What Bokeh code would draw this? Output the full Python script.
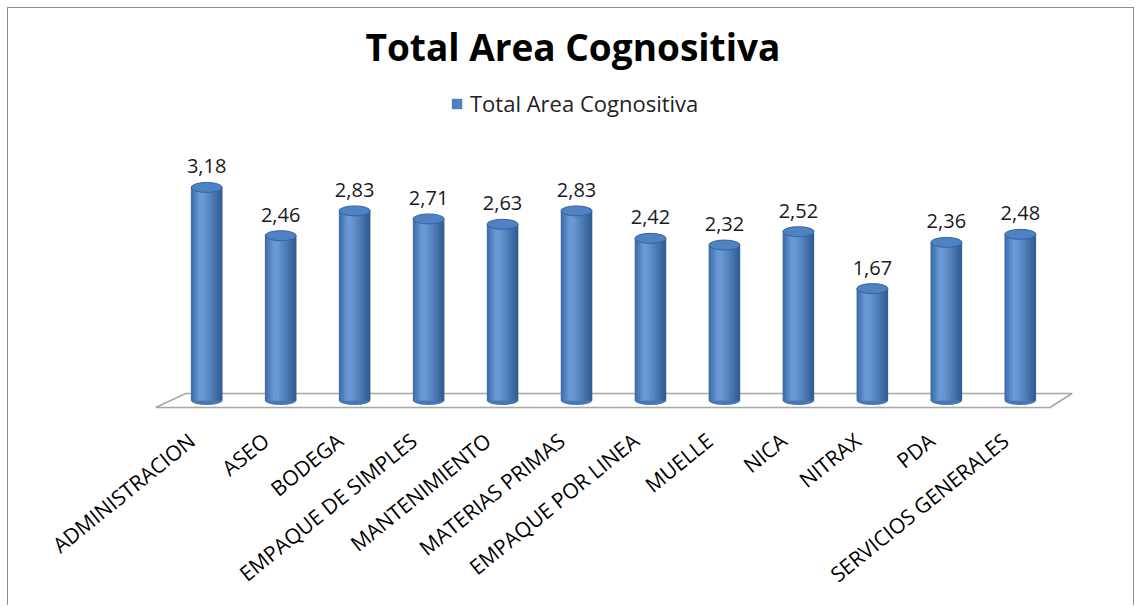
from bokeh.plotting import figure
from bokeh.models import (Range1d, ColumnDataSource, LabelSet,
                          Legend, LegendItem, LinearAxis, FixedTicker)
from bokeh.core.properties import value
from bokeh.embed import file_html
from bokeh.resources import INLINE

# ---------------- data ----------------
categories = ["ADMINISTRACION", "ASEO", "BODEGA", "EMPAQUE DE SIMPLES",
              "MANTENIMIENTO", "MATERIAS PRIMAS", "EMPAQUE POR LINEA",
              "MUELLE", "NICA", "NITRAX", "PDA", "SERVICIOS GENERALES"]
values = [3.18, 2.46, 2.83, 2.71, 2.63, 2.83, 2.42, 2.32, 2.52, 1.67, 2.36, 2.48]
series_name = "Total Area Cognositiva"
title_text = "Total Area Cognositiva"
value_labels = [f"{v:.2f}".replace(".", ",") for v in values]

# ---------------- layout ----------------
W, H = 1127, 598
PX_PER_UNIT = 67.0
TOP_BORDER = 70
FRAME_BOTTOM = 402
BOTTOM_BORDER = H - FRAME_BOTTOM
frame_h = FRAME_BOTTOM - TOP_BORDER
y_start = -10.0 / PX_PER_UNIT
y_end = y_start + frame_h / PX_PER_UNIT
PAD = 0.3
BAR_W = 0.42
LEFT = 139
FRAME_W = 932
LABEL_SHIFT = 0.2   # category labels sit slightly left of their bars
FONT = "Open Sans"
n = len(categories)
xpos = [i + 0.5 for i in range(n)]   # category slot centres

p = figure(width=W, height=H, output_backend="svg", toolbar_location=None,
           x_range=Range1d(-PAD, n + PAD),
           y_range=Range1d(y_start, y_end),
           min_border_left=LEFT, min_border_right=W - LEFT - FRAME_W,
           min_border_top=TOP_BORDER, min_border_bottom=BOTTOM_BORDER)
p.styles = {"border-top": "1px solid #8c8c8c",
            "border-left": "1px solid #8c8c8c",
            "border-right": "1px solid #8c8c8c",
            "margin-left": "7px", "margin-top": "7px"}
p.outline_line_color = None
p.xgrid.visible = False
p.ygrid.visible = False
p.yaxis.visible = False
p.xaxis.visible = False

p.title.text = title_text
p.title.align = "left"
p.title.offset = 218
p.title.standoff = 14
p.title.text_font = FONT
p.title.text_font_style = "bold"
p.title.text_font_size = "37px"
p.title.text_color = "#000000"

# category axis (labels sit slightly left of their bars, as in the original)
p.extra_x_ranges = {"cats": Range1d(-PAD + LABEL_SHIFT, n + PAD + LABEL_SHIFT)}
xa = LinearAxis(x_range_name="cats",
                ticker=FixedTicker(ticks=xpos),
                major_label_overrides={t: c for t, c in zip(xpos, categories)})
xa.axis_line_color = None
xa.major_tick_line_color = None
xa.minor_tick_line_color = None
xa.major_label_orientation = 0.68
xa.major_label_text_font = FONT
xa.major_label_text_font_size = "21px"
xa.major_label_text_color = "#000000"
xa.major_label_standoff = 21
p.add_layout(xa, "below")

# floor (3D base plane)
floor = ColumnDataSource(dict(
    x=[-0.19, 0.216, n + 0.2, n - 0.1],
    y=[-7 / PX_PER_UNIT, 7 / PX_PER_UNIT, 7 / PX_PER_UNIT, -7 / PX_PER_UNIT]))
p.patch("x", "y", source=floor, fill_color="white", line_color="#a8a8a8",
        line_width=1.6)

src = ColumnDataSource(dict(x=xpos, cat=categories, top=values, lab=value_labels))

# base bar (used for legend swatch)
base = p.vbar(x="x", top="top", bottom=0, width=BAR_W, source=src,
              fill_color="#4F81BD", line_color=None)

# bottom cap
p.ellipse(x="x", y=0, width=BAR_W, height=9, height_units="screen",
          source=src, fill_color="#4878b4", line_color=None)

# cylinder shading strips
stops = [(0.0, (62, 104, 162)), (0.3, (108, 158, 218)), (0.45, (102, 150, 210)),
         (1.0, (48, 90, 145))]


def shade(t):
    for (t0, c0), (t1, c1) in zip(stops[:-1], stops[1:]):
        if t0 <= t <= t1:
            f = (t - t0) / (t1 - t0)
            c = [round(a + (b - a) * f) for a, b in zip(c0, c1)]
            return "#%02x%02x%02x" % tuple(c)
    return "#4F81BD"


NS = 12
sx, stop_, scol = [], [], []
for xc, v in zip(xpos, values):
    for k in range(NS):
        t = (k + 0.5) / NS
        sx.append(xc - BAR_W / 2 + BAR_W * t)
        stop_.append(v)
        scol.append(shade(t))
strips = ColumnDataSource(dict(x=sx, top=stop_, c=scol))
p.vbar(x="x", top="top", bottom=0, width=BAR_W / NS * 1.05, source=strips,
       fill_color="c", line_color="c", line_width=0.3)

# top cap
p.ellipse(x="x", y="top", width=BAR_W, height=10, height_units="screen",
          source=src, fill_color="#4f82c2", line_color="#36649e", line_width=1)

labels = LabelSet(x="x", y="top", text="lab", source=src, text_align="center",
                  text_baseline="alphabetic", y_offset=14,
                  text_font=value(FONT), text_font_size=value("20px"),
                  text_color="#1a1a1a")
p.add_layout(labels)

legend = Legend(items=[LegendItem(label=series_name, renderers=[base])],
                orientation="horizontal", location=(303, 292),
                border_line_color=None, background_fill_alpha=0,
                label_text_font=FONT, label_text_font_size="22px",
                label_text_color="#222222",
                glyph_width=13, glyph_height=13, label_standoff=7,
                padding=2, margin=0)
p.add_layout(legend, "center")

open("out.html", "w").write(file_html(p, INLINE))
